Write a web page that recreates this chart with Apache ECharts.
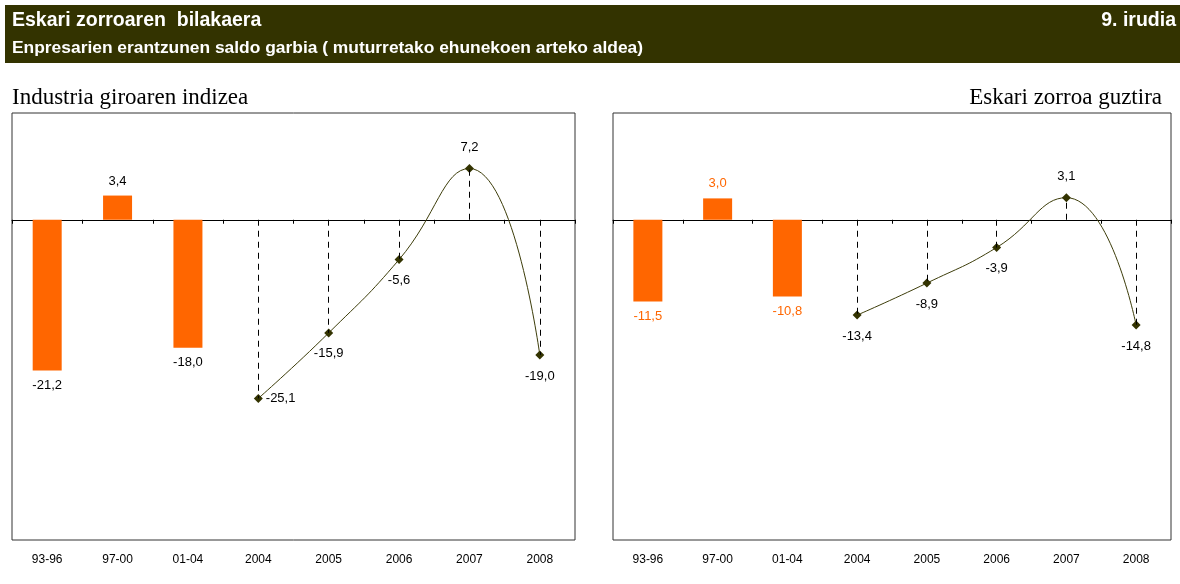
<!DOCTYPE html>
<html>
<head>
<meta charset="utf-8">
<script src="https://cdn.jsdelivr.net/npm/echarts@6/dist/echarts.min.js"></script>
<style>
html,body{margin:0;padding:0;background:#fff;}
#c{width:1180px;height:584px;}
</style>
</head>
<body>
<div id="c"></div>
<script>
// ---- data ----
var categories = ['93-96', '97-00', '01-04', '2004', '2005', '2006', '2007', '2008'];
// Industria giroaren indizea
var leftBars = [-21.2, 3.4, -18.0, null, null, null, null, null];
var leftLine = [null, null, null, -25.1, -15.9, -5.6, 7.2, -19.0];
// Eskari zorroa guztira
var rightBars = [-11.5, 3.0, -10.8, null, null, null, null, null];
var rightLine = [null, null, null, -13.4, -8.9, -3.9, 3.1, -14.8];

var titleMain = 'Eskari zorroaren  bilakaera';
var titleSub = 'Enpresarien erantzunen saldo garbia ( muturretako ehunekoen arteko aldea)';
var figNo = '9. irudia';
var leftTitle = 'Industria giroaren indizea';
var rightTitle = 'Eskari zorroa guztira';

// ---- helpers ----
var ORANGE = '#FF6600';
var OLIVE = '#333300';
var SANS = '"Liberation Sans", Arial, sans-serif';
function fmt(v) { return v.toFixed(1).replace('.', ','); }

function barSeries(vals, axisIdx, labelColor) {
  return {
    type: 'bar', xAxisIndex: axisIdx, yAxisIndex: axisIdx,
    barWidth: 29, silent: true,
    itemStyle: { color: ORANGE },
    data: vals.map(function (v) {
      if (v == null) return null;
      return {
        value: v,
        label: {
          show: true, position: v >= 0 ? 'top' : 'bottom', distance: 8,
          color: labelColor, fontSize: 13, fontFamily: SANS,
          formatter: function (p) { return fmt(p.value); }
        }
      };
    })
  };
}

function lineSeries(vals, axisIdx, rightLabelIdx) {
  var ml = [];
  vals.forEach(function (v, i) {
    if (v == null) return;
    ml.push([{ coord: [i, 0] }, { coord: [i, v] }]);
  });
  return {
    type: 'line', xAxisIndex: axisIdx, yAxisIndex: axisIdx,
    smooth: 0.5, connectNulls: false, silent: true,
    symbol: 'diamond', symbolSize: 9,
    lineStyle: { color: '#3d3d0a', width: 1 },
    itemStyle: { color: OLIVE },
    z: 3,
    data: vals.map(function (v, i) {
      if (v == null) return null;
      var pos = v >= 0 ? 'top' : 'bottom';
      if (i === rightLabelIdx) pos = 'right';
      return {
        value: v,
        label: {
          show: true, position: pos, distance: pos === 'right' ? 3 : 10,
          color: '#000', fontSize: 13, fontFamily: SANS,
          formatter: function (p) { return fmt(p.value); }
        }
      };
    }),
    markLine: {
      silent: true, symbol: 'none', animation: false,
      label: { show: false },
      lineStyle: { color: '#000', type: [6, 5], width: 1 },
      data: ml
    }
  };
}

var chart = echarts.init(document.getElementById('c'), null, { renderer: 'canvas' });

var grids = [
  { left: 12, top: 113, width: 563, height: 427, show: true, borderColor: '#333', borderWidth: 1, backgroundColor: '#fff' },
  { left: 613, top: 113, width: 558, height: 427, show: true, borderColor: '#333', borderWidth: 1, backgroundColor: '#fff' }
];

function zeroAxis(g) {
  return {
    gridIndex: g, type: 'category', data: categories,
    axisLine: { onZero: true, lineStyle: { color: '#000', width: 1 } },
    axisTick: { show: true, length: 4, lineStyle: { color: '#000' } },
    axisLabel: { show: false }, splitLine: { show: false }
  };
}
function labelAxis(g) {
  return {
    gridIndex: g, type: 'category', data: categories, position: 'bottom',
    axisLine: { show: false, onZero: false }, axisTick: { show: false },
    axisLabel: { show: true, margin: 14, color: '#000', fontSize: 12, fontFamily: SANS }
  };
}

var HFONT = '"Liberation Sans Narrow", "Arial Narrow", "Liberation Sans", sans-serif';
var option = {
  animation: false,
  grid: grids,
  xAxis: [zeroAxis(0), zeroAxis(1), labelAxis(0), labelAxis(1)],
  yAxis: [0, 1].map(function (g) {
    return {
      gridIndex: g, type: 'value', min: -45, max: 15, interval: 15,
      axisLine: { show: false }, axisTick: { show: false },
      axisLabel: { show: false }, splitLine: { show: false }
    };
  }),
  series: [
    barSeries(leftBars, 0, '#000'),
    lineSeries(leftLine, 0, 3),
    barSeries(rightBars, 1, ORANGE),
    lineSeries(rightLine, 1, -1)
  ],
  graphic: [
    { type: 'rect', shape: { x: 5, y: 5, width: 1175, height: 58 }, style: { fill: OLIVE }, silent: true },
    { type: 'text', left: 12, top: 11, style: { text: titleMain, fill: '#fff', font: 'bold 19.5px ' + HFONT } },
    { type: 'text', left: 12, top: 40, style: { text: titleSub, fill: '#fff', font: 'bold 17.4px ' + HFONT } },
    { type: 'text', right: 4, top: 11, style: { text: figNo, fill: '#fff', font: 'bold 19.5px ' + HFONT } },
    { type: 'text', left: 12, top: 86, style: { text: leftTitle, fill: '#000', font: '23px "Liberation Serif", "Times New Roman", serif' } },
    { type: 'text', right: 18, top: 86, style: { text: rightTitle, fill: '#000', font: '23px "Liberation Serif", "Times New Roman", serif' } }
  ]
};
chart.setOption(option);
</script>
</body>
</html>
